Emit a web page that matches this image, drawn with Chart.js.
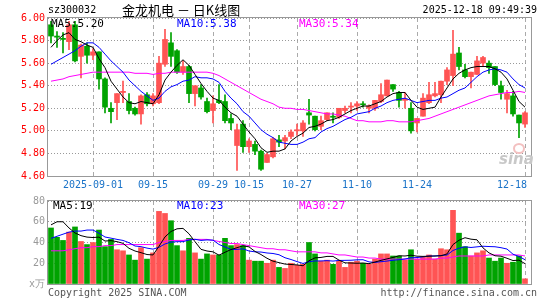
<!DOCTYPE html>
<html>
<head>
<meta charset="utf-8">
<script src="https://cdn.jsdelivr.net/npm/chart.js@4.4.1/dist/chart.umd.min.js"></script>
<style>
  body { margin: 0; background: #fff; width: 545px; height: 300px; overflow: hidden; position: relative; font-family: "DejaVu Sans Mono", monospace; }
  canvas { position: absolute; left: 0; }
  #kline { top: 0; }
  #volume { top: 192px; }
  .txt { position: absolute; white-space: nowrap; font-size: 10px; line-height: 12px; }
  .leg { font-size: 11px; }
</style>
</head>
<body>
<canvas id="kline" width="545" height="192"></canvas>
<canvas id="volume" width="545" height="108"></canvas>

<div class="txt" style="left:48px;top:4px;color:#000">sz300032</div>
<div class="txt" style="left:122px;top:2px;font-family:'Noto Sans CJK SC';font-size:13px;line-height:16px;color:#000">金龙机电 － 日K线图</div>
<div class="txt" style="right:8px;top:4px;color:#000">2025-12-18 09:49:39</div>

<div class="txt leg" style="left:51px;top:18px;color:#000">MA5:5.20</div>
<div class="txt leg" style="left:177px;top:18px;color:#0000ff">MA10:5.38</div>
<div class="txt leg" style="left:299px;top:18px;color:#ff00ff">MA30:5.34</div>

<div class="txt leg" style="left:53px;top:200px;color:#000">MA5:19</div>
<div class="txt leg" style="left:177px;top:200px;color:#0000ff">MA10:23</div>
<div class="txt leg" style="left:299px;top:200px;color:#ff00ff">MA30:27</div>

<div class="txt" style="left:48px;top:287px;color:#555">Copyright 2025 SINA.COM</div>
<div class="txt" style="right:8px;top:287px;color:#555">http://finance.sina.com.cn</div>

<div style="position:absolute;left:513px;top:143px;width:8px;height:7px;border:2px solid #f3c0c0;border-radius:50%"></div>
<div class="txt" style="left:499px;top:151px;font-family:'DejaVu Sans';font-style:italic;font-weight:bold;font-size:15px;line-height:16px;color:#c8c8c8">sina</div>

<script>
// trading days shown (2025-08-21 .. 2025-12-18)
const dates = [
  "2025-08-21", "2025-08-22", "2025-08-25", "2025-08-26", "2025-08-27", "2025-08-28", "2025-08-29",
  "2025-09-01", "2025-09-02", "2025-09-03", "2025-09-04", "2025-09-05",
  "2025-09-08", "2025-09-09", "2025-09-10", "2025-09-11", "2025-09-12",
  "2025-09-15", "2025-09-16", "2025-09-17", "2025-09-18", "2025-09-19",
  "2025-09-22", "2025-09-23", "2025-09-24", "2025-09-25", "2025-09-26",
  "2025-09-29", "2025-09-30", "2025-10-09", "2025-10-10",
  "2025-10-13", "2025-10-14", "2025-10-15", "2025-10-16", "2025-10-17",
  "2025-10-20", "2025-10-21", "2025-10-22", "2025-10-23", "2025-10-24",
  "2025-10-27", "2025-10-28", "2025-10-29", "2025-10-30", "2025-10-31",
  "2025-11-03", "2025-11-04", "2025-11-05", "2025-11-06", "2025-11-07",
  "2025-11-10", "2025-11-11", "2025-11-12", "2025-11-13", "2025-11-14",
  "2025-11-17", "2025-11-18", "2025-11-19", "2025-11-20", "2025-11-21",
  "2025-11-24", "2025-11-25", "2025-11-26", "2025-11-27", "2025-11-28",
  "2025-12-01", "2025-12-02", "2025-12-03", "2025-12-04", "2025-12-05",
  "2025-12-08", "2025-12-09", "2025-12-10", "2025-12-11", "2025-12-12",
  "2025-12-15", "2025-12-16", "2025-12-17", "2025-12-18"
];

// x axis tick labels
const tickDates = ["2025-09-01", "2025-09-15", "2025-09-29", "2025-10-15", "2025-10-27", "2025-11-10", "2025-11-24", "2025-12-18"];
const tickLabels = ["2025-09-01", "09-15", "09-29", "10-15", "10-27", "11-10", "11-24", "12-18"];

// daily prices
const open = [
  5.94, 5.84, 5.82, 5.79, 5.94, 5.66, 5.75, 5.67, 5.70, 5.46,
  5.20, 5.25, 5.34, 5.26, 5.20, 5.15, 5.32, 5.24, 5.25, 5.59,
  5.78, 5.71, 5.52, 5.57, 5.33, 5.38, 5.26, 5.18, 5.27, 5.26,
  5.11, 4.87, 5.06, 4.86, 4.88, 4.82, 4.72, 4.77, 4.92, 4.91,
  4.95, 5.00, 5.00, 5.16, 5.13, 5.04, 5.10, 5.13, 5.12, 5.18,
  5.21, 5.22, 5.24, 5.20, 5.20, 5.26, 5.31, 5.41, 5.34, 5.27,
  5.20, 5.07, 5.13, 5.25, 5.31, 5.32, 5.44, 5.49, 5.69, 5.54,
  5.48, 5.50, 5.60, 5.60, 5.57, 5.40, 5.28, 5.31, 5.14, 5.06
];
const high = [
  5.97, 5.88, 5.87, 5.97, 5.97, 5.77, 5.78, 5.73, 5.70, 5.47,
  5.25, 5.33, 5.44, 5.33, 5.21, 5.32, 5.34, 5.33, 5.66, 5.90,
  5.87, 5.72, 5.62, 5.58, 5.40, 5.41, 5.29, 5.31, 5.41, 5.32,
  5.15, 5.06, 5.09, 4.93, 4.91, 4.83, 4.80, 4.94, 4.96, 4.96,
  5.01, 5.06, 5.09, 5.28, 5.13, 5.13, 5.16, 5.16, 5.20, 5.22,
  5.25, 5.26, 5.26, 5.23, 5.27, 5.42, 5.45, 5.41, 5.35, 5.34,
  5.25, 5.11, 5.33, 5.43, 5.43, 5.44, 5.56, 5.89, 5.74, 5.59,
  5.52, 5.66, 5.66, 5.62, 5.57, 5.44, 5.36, 5.35, 5.14, 5.17
];
const low = [
  5.78, 5.74, 5.69, 5.72, 5.61, 5.47, 5.60, 5.63, 5.37, 5.16,
  5.07, 5.10, 5.25, 5.15, 5.14, 5.06, 5.22, 5.22, 5.24, 5.57,
  5.57, 5.51, 5.50, 5.25, 5.22, 5.28, 5.16, 5.07, 5.24, 5.07,
  5.01, 4.65, 4.81, 4.81, 4.79, 4.65, 4.72, 4.76, 4.86, 4.84,
  4.93, 4.96, 4.95, 5.06, 5.00, 5.01, 5.09, 5.07, 5.11, 5.16,
  5.16, 5.18, 5.21, 5.16, 5.18, 5.25, 5.31, 5.35, 5.21, 5.20,
  4.98, 4.99, 5.13, 5.24, 5.30, 5.25, 5.41, 5.40, 5.54, 5.47,
  5.38, 5.50, 5.57, 5.51, 5.40, 5.28, 5.16, 5.13, 4.94, 5.03
];
const close = [
  5.84, 5.83, 5.81, 5.94, 5.62, 5.76, 5.67, 5.70, 5.46, 5.21,
  5.17, 5.33, 5.35, 5.18, 5.15, 5.31, 5.24, 5.31, 5.60, 5.81,
  5.66, 5.52, 5.57, 5.33, 5.40, 5.30, 5.17, 5.24, 5.25, 5.09,
  5.07, 5.01, 4.86, 4.91, 4.82, 4.66, 4.79, 4.93, 4.90, 4.94,
  4.99, 5.01, 5.07, 5.14, 5.01, 5.09, 5.16, 5.12, 5.20, 5.20,
  5.22, 5.24, 5.23, 5.22, 5.27, 5.32, 5.45, 5.37, 5.27, 5.28,
  5.00, 5.11, 5.29, 5.32, 5.33, 5.44, 5.54, 5.68, 5.57, 5.48,
  5.52, 5.62, 5.65, 5.56, 5.41, 5.34, 5.33, 5.15, 5.07, 5.16
];

// price moving averages
const ma5 = [
  5.74, 5.80, 5.85, 5.87, 5.81, 5.79, 5.76, 5.74, 5.64, 5.56,
  5.44, 5.37, 5.30, 5.25, 5.24, 5.26, 5.25, 5.24, 5.32, 5.45,
  5.52, 5.58, 5.63, 5.58, 5.50, 5.42, 5.35, 5.29, 5.27, 5.21,
  5.16, 5.13, 5.06, 4.99, 4.93, 4.85, 4.81, 4.82, 4.82, 4.84,
  4.91, 4.95, 4.98, 5.03, 5.04, 5.06, 5.09, 5.10, 5.12, 5.15,
  5.18, 5.20, 5.22, 5.22, 5.24, 5.26, 5.30, 5.33, 5.34, 5.34,
  5.27, 5.21, 5.19, 5.20, 5.21, 5.30, 5.38, 5.46, 5.51, 5.54,
  5.56, 5.57, 5.57, 5.57, 5.55, 5.52, 5.46, 5.36, 5.26, 5.21
];
const ma10 = [
  5.59, 5.62, 5.65, 5.68, 5.71, 5.75, 5.78, 5.78, 5.74, 5.68,
  5.62, 5.57, 5.52, 5.45, 5.40, 5.35, 5.31, 5.27, 5.29, 5.35,
  5.39, 5.41, 5.44, 5.45, 5.48, 5.47, 5.47, 5.46, 5.43, 5.35,
  5.29, 5.24, 5.17, 5.13, 5.07, 5.01, 4.97, 4.94, 4.90, 4.89,
  4.88, 4.88, 4.90, 4.93, 4.94, 4.99, 5.02, 5.04, 5.07, 5.10,
  5.12, 5.15, 5.16, 5.17, 5.20, 5.22, 5.25, 5.27, 5.28, 5.29,
  5.27, 5.25, 5.26, 5.27, 5.27, 5.29, 5.30, 5.33, 5.36, 5.38,
  5.43, 5.48, 5.52, 5.54, 5.55, 5.54, 5.52, 5.46, 5.41, 5.38
];
const ma30 = [
  5.44, 5.45, 5.46, 5.48, 5.49, 5.50, 5.51, 5.52, 5.52, 5.52,
  5.52, 5.52, 5.52, 5.52, 5.51, 5.51, 5.51, 5.50, 5.51, 5.51,
  5.52, 5.52, 5.52, 5.52, 5.52, 5.52, 5.52, 5.51, 5.49, 5.46,
  5.43, 5.40, 5.37, 5.34, 5.31, 5.28, 5.26, 5.24, 5.21, 5.20,
  5.20, 5.19, 5.19, 5.18, 5.17, 5.16, 5.15, 5.15, 5.14, 5.13,
  5.11, 5.09, 5.09, 5.08, 5.08, 5.08, 5.09, 5.09, 5.08, 5.08,
  5.08, 5.09, 5.10, 5.11, 5.13, 5.15, 5.17, 5.19, 5.21, 5.23,
  5.25, 5.27, 5.29, 5.31, 5.32, 5.33, 5.34, 5.34, 5.35, 5.34
];

// volume (万手) and its moving averages
const volume = [
  54, 45, 42, 50, 55, 41, 38, 40, 52, 36,
  43, 33, 32, 28, 23, 35, 24, 30, 70, 68,
  61, 37, 32, 44, 30, 24, 29, 28, 28, 44,
  37, 38, 37, 23, 22, 22, 20, 23, 16, 15,
  20, 18, 19, 40, 29, 22, 23, 19, 22, 16,
  21, 22, 20, 19, 24, 29, 29, 27, 27, 23,
  33, 24, 26, 28, 24, 34, 33, 71, 49, 36,
  27, 30, 32, 25, 22, 25, 20, 21, 27, 5
];
const volMa5 = [
  57, 60, 60, 54, 49.2, 46.6, 45.2, 44.8, 45.2, 41.4,
  41.8, 40.8, 39.2, 34.4, 31.8, 30.2, 28.4, 28, 36.4, 45.4,
  50.6, 53.2, 53.6, 48.4, 40.8, 33.4, 31.8, 31, 27.8, 30.6,
  33.2, 35, 36.8, 35.8, 31.4, 28.4, 24.8, 22, 20.6, 19.2,
  18.8, 18.4, 17.6, 22.4, 25.2, 25.6, 26.6, 26.6, 23, 20.4,
  20.2, 20, 20.2, 19.6, 21.2, 22.8, 24.2, 25.6, 27.2, 27,
  27.8, 26.8, 26.6, 26.8, 27, 27.2, 29, 38, 42.2, 44.6,
  43.2, 42.6, 34.8, 30, 27.2, 26.8, 24.8, 22.6, 23, 19.6
];
const volMa10 = [
  44, 46, 48, 50, 51, 51, 52, 52, 49, 45.3,
  44.2, 43, 42, 39.8, 36.6, 36, 34.6, 33.6, 35.4, 38.6,
  40.4, 40.8, 40.8, 42.4, 43.1, 42, 42.5, 42.3, 38.1, 35.7,
  33.3, 33.4, 33.9, 31.8, 31, 30.8, 29.9, 29.4, 28.2, 25.3,
  23.6, 21.6, 19.8, 21.5, 22.2, 22.2, 22.5, 22.1, 22.7, 22.8,
  22.9, 23.3, 23.4, 21.3, 20.8, 21.5, 22.1, 22.9, 23.4, 24.1,
  25.3, 25.5, 26.1, 27, 27, 27.5, 27.9, 32.3, 34.5, 35.8,
  35.2, 35.8, 36.4, 36.1, 35.9, 35, 33.7, 28.7, 26.5, 23.4
];
const volMa30 = [
  32, 32, 32, 33, 34, 35, 35, 36, 36, 37,
  37, 38, 38, 38, 38, 38, 38, 38, 40, 41,
  42, 42, 42, 43, 43, 43, 43, 42, 41, 40,
  39, 39, 38, 37, 36, 35, 34, 34, 33, 33,
  32, 31, 31, 31, 31, 30, 30, 29, 28, 28,
  27, 26, 26, 25, 25, 24, 24, 24, 24, 24,
  24, 24, 24, 24, 24, 25, 25, 26, 27, 27,
  27, 27, 27, 28, 28, 28, 28, 28, 28, 27
];

const UP = "#ff5454";
const DOWN = "#00a300";
const candleColors = close.map((c, i) => (c >= open[i] ? UP : DOWN));
const tickIdx = tickDates.map((d) => dates.indexOf(d));
const monoFont = { family: "DejaVu Sans Mono", size: 10 };

// gray frame around each plot
const framePlugin = {
  id: "frame",
  afterDraw(chart) {
    const a = chart.chartArea;
    const ctx = chart.ctx;
    ctx.save();
    ctx.strokeStyle = "#999";
    ctx.lineWidth = 1;
    ctx.strokeRect(a.left - 0.5, a.top - 0.5, a.right - a.left + 4, a.bottom - a.top + 1);
    ctx.restore();
  },
};

// date labels under the price panel
const dateLabelPlugin = {
  id: "dateLabels",
  afterDraw(chart) {
    const ctx = chart.ctx;
    const x = chart.scales.x;
    ctx.save();
    ctx.font = "10px 'DejaVu Sans Mono'";
    ctx.fillStyle = "#1a73c8";
    ctx.textBaseline = "middle";
    tickIdx.forEach((idx, k) => {
      ctx.textAlign = k === tickIdx.length - 1 ? "right" : "center";
      ctx.fillText(tickLabels[k], x.getPixelForValue(idx) + (k === tickIdx.length - 1 ? 2 : 0), 185);
    });
    ctx.restore();
  },
};

function xAxis() {
  return {
    type: "category",
    offset: true,
    ticks: { display: false },
    grid: {
      offset: false,
      drawTicks: false,
      color: (ctx) => (tickIdx.includes(ctx.index) ? "#aaa" : "rgba(0,0,0,0)"),
    },
    border: { display: false, dash: [4, 3] },
    afterFit(scale) { scale.height = 0; },
  };
}

function lineSet(data, color) {
  return {
    type: "line",
    data: data,
    borderColor: color,
    borderWidth: 1,
    pointRadius: 0,
    tension: 0,
    order: 0,
  };
}

// Price chart
const klineCtx = document.getElementById("kline").getContext("2d");
new Chart(klineCtx, {
  type: "bar",
  data: {
    labels: dates,
    datasets: [
      {
        data: low.map((l, i) => [l, high[i]]),
        backgroundColor: candleColors,
        barThickness: 1,
        grouped: false,
        order: 2,
      },
      {
        data: open.map((o, i) => [o, close[i]]),
        backgroundColor: candleColors,
        barThickness: 5,
        minBarLength: 1,
        grouped: false,
        order: 1,
      },
      lineSet(ma5, "#000000"),
      lineSet(ma10, "#0000ff"),
      lineSet(ma30, "#ff00ff"),
    ],
  },
  options: {
    responsive: false,
    animation: false,
    devicePixelRatio: 1,
    layout: { padding: { left: 0, right: 17, top: 18, bottom: 16 } },
    plugins: { legend: { display: false }, tooltip: { enabled: false } },
    scales: {
      x: xAxis(),
      y: {
        min: 4.6,
        max: 6.0,
        ticks: {
          stepSize: 0.2,
          color: "#ff0000",
          font: monoFont,
          padding: 3,
          callback: (v) => Number(v).toFixed(2),
        },
        grid: { color: "#999", drawTicks: false },
        border: { display: false, dash: [1, 2] },
        afterFit(scale) { scale.width = 48; },
      },
    },
  },
  plugins: [framePlugin, dateLabelPlugin],
});

// Volume chart
const volumeCtx = document.getElementById("volume").getContext("2d");
new Chart(volumeCtx, {
  type: "bar",
  data: {
    labels: dates,
    datasets: [
      {
        data: volume,
        backgroundColor: candleColors,
        barThickness: 5,
        order: 1,
      },
      lineSet(volMa5, "#000000"),
      lineSet(volMa10, "#0000ff"),
      lineSet(volMa30, "#ff00ff"),
    ],
  },
  options: {
    responsive: false,
    animation: false,
    devicePixelRatio: 1,
    layout: { padding: { left: 0, right: 17, top: 9, bottom: 16 } },
    plugins: { legend: { display: false }, tooltip: { enabled: false } },
    scales: {
      x: xAxis(),
      y: {
        min: 0,
        max: 80,
        ticks: {
          stepSize: 20,
          color: "#999",
          font: monoFont,
          padding: 3,
          callback: (v) => (v === 0 ? "x万" : v),
        },
        grid: { color: (ctx) => (ctx.tick && ctx.tick.value === 0 ? "rgba(0,0,0,0)" : "#999"), drawTicks: false },
        border: { display: false, dash: [1, 2] },
        afterFit(scale) { scale.width = 48; },
      },
    },
  },
  plugins: [framePlugin],
});
</script>
</body>
</html>
